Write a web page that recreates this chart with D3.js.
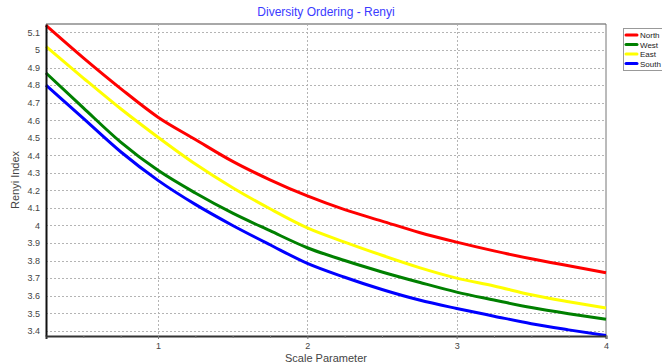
<!DOCTYPE html>
<html>
<head>
<meta charset="utf-8">
<script src="https://cdn.jsdelivr.net/npm/d3@7"></script>
<style>
  body { margin: 0; background: #fff; }
  text { font-family: "Liberation Sans", Arial, sans-serif; }
</style>
</head>
<body>
<div id="chart"></div>
<script>
const scales = [0.25, 0.5, 0.75, 1, 1.25, 1.5, 1.75, 2, 2.25, 2.5, 2.75, 3, 3.25, 3.5, 3.75, 4];
const north = [5.14, 4.955, 4.78, 4.617, 4.49, 4.365, 4.26, 4.168, 4.09, 4.025, 3.96, 3.905, 3.855, 3.81, 3.77, 3.731];
const west = [4.869, 4.67, 4.475, 4.314, 4.185, 4.07, 3.97, 3.873, 3.8, 3.735, 3.676, 3.62, 3.575, 3.532, 3.497, 3.466];
const east = [5.02, 4.84, 4.665, 4.503, 4.35, 4.215, 4.095, 3.986, 3.905, 3.83, 3.76, 3.7, 3.655, 3.605, 3.565, 3.529];
const south = [4.8, 4.61, 4.42, 4.257, 4.12, 4.0, 3.89, 3.784, 3.705, 3.635, 3.575, 3.527, 3.483, 3.44, 3.405, 3.373];
const seriesNames = ["North", "West", "East", "South"];
const seriesColors = ["#ff0000", "#008000", "#ffff00", "#0000ff"];
const yTicks = [3.4, 3.5, 3.6, 3.7, 3.8, 3.9, 4, 4.1, 4.2, 4.3, 4.4, 4.5, 4.6, 4.7, 4.8, 4.9, 5, 5.1];
const xTicks = [1, 2, 3, 4];

const series = [north, west, east, south].map((vals, i) => ({
  name: seriesNames[i],
  color: seriesColors[i],
  values: vals.map((v, j) => [scales[j], v])
}));

const width = 662;
const height = 364;
const margin = { top: 24, right: 56, bottom: 28, left: 46 };

const svg = d3
  .select("#chart")
  .append("svg")
  .attr("width", width)
  .attr("height", height);

const x = d3.scaleLinear().domain([0.25, 4]).range([margin.left, width - margin.right]);
const y = d3.scaleLinear().domain([3.37, 5.148]).range([height - margin.bottom, margin.top]);

// title
svg.append("text")
  .attr("x", 326)
  .attr("y", 16)
  .attr("text-anchor", "middle")
  .attr("fill", "#3b3bff")
  .style("font-size", "12px")
  .text("Diversity Ordering - Renyi");

// horizontal grid
svg.append("g")
  .selectAll("line")
  .data(yTicks)
  .enter()
  .append("line")
  .attr("x1", margin.left)
  .attr("x2", width - margin.right)
  .attr("y1", (d) => Math.round(y(d)) + 0.5)
  .attr("y2", (d) => Math.round(y(d)) + 0.5)
  .attr("stroke", "#b4b4b4")
  .attr("stroke-dasharray", "2,2");

// vertical grid
svg.append("g")
  .selectAll("line")
  .data(xTicks.slice(0, 3))
  .enter()
  .append("line")
  .attr("x1", (d) => Math.round(x(d)) + 0.5)
  .attr("x2", (d) => Math.round(x(d)) + 0.5)
  .attr("y1", margin.top)
  .attr("y2", height - margin.bottom)
  .attr("stroke", "#b4b4b4")
  .attr("stroke-dasharray", "2,2");

// frame: gray top/right
svg.append("line")
  .attr("x1", margin.left).attr("x2", width - margin.right)
  .attr("y1", margin.top).attr("y2", margin.top)
  .attr("stroke", "#a8a8a8").attr("stroke-width", 2);
svg.append("line")
  .attr("x1", width - margin.right).attr("x2", width - margin.right)
  .attr("y1", margin.top).attr("y2", height - margin.bottom)
  .attr("stroke", "#777").attr("stroke-width", 1);

// lines
const line = d3.line()
  .x((d) => x(d[0]))
  .y((d) => y(d[1]))
  .curve(d3.curveMonotoneX);

svg.append("g")
  .selectAll("path")
  .data(series)
  .enter()
  .append("path")
  .attr("d", (d) => line(d.values))
  .attr("fill", "none")
  .attr("stroke", (d) => d.color)
  .attr("stroke-width", 3);

// y axis
const yAxis = svg.append("g")
  .attr("transform", `translate(${margin.left},0)`)
  .call(d3.axisLeft(y).tickValues(yTicks).tickSize(0).tickPadding(6).tickFormat(d3.format("")));
yAxis.select(".domain").attr("stroke", "#111").attr("stroke-width", 2);
yAxis.selectAll("text").attr("fill", "#444").style("font-size", "9px");

// x axis
const xAxis = svg.append("g")
  .attr("transform", `translate(0,${height - margin.bottom})`)
  .call(d3.axisBottom(x).tickValues(xTicks).tickSize(3).tickPadding(4).tickFormat(d3.format("d")));
xAxis.select(".domain").attr("stroke", "#333").attr("stroke-width", 2);
xAxis.selectAll(".tick line").attr("stroke", "#777");
xAxis.selectAll("text").attr("fill", "#444").style("font-size", "9px");

xAxis.append("g")
  .call(d3.axisBottom(x).tickValues(d3.range(0.5, 4, 0.25).filter((d) => d % 1 !== 0)).tickSize(2).tickFormat(""))
  .call((g) => g.select(".domain").remove())
  .selectAll("line").attr("stroke", "#777");

// axis titles
svg.append("text")
  .attr("x", 326)
  .attr("y", 362)
  .attr("text-anchor", "middle")
  .attr("fill", "#444")
  .style("font-size", "11px")
  .text("Scale Parameter");

svg.append("text")
  .attr("transform", "translate(19,180) rotate(-90)")
  .attr("text-anchor", "middle")
  .attr("fill", "#444")
  .style("font-size", "11px")
  .text("Renyi Index");

// legend
const legend = svg.append("g").attr("transform", "translate(623,28)");
legend.append("rect")
  .attr("x", 0.5).attr("y", 0.5)
  .attr("width", 50).attr("height", 42)
  .attr("fill", "#fff")
  .attr("stroke", "#999");
legend.selectAll("g")
  .data(series)
  .enter()
  .append("g")
  .attr("transform", (d, i) => `translate(0,${7 + i * 9.5})`)
  .each(function (d) {
    const g = d3.select(this);
    g.append("line")
      .attr("x1", 3).attr("x2", 14)
      .attr("stroke", d.color)
      .attr("stroke-width", 3)
      .attr("stroke-linecap", "round");
    g.append("text")
      .attr("x", 17)
      .attr("y", 3)
      .attr("fill", "#222")
      .style("font-size", "8px")
      .text(d.name);
  });
</script>
</body>
</html>
